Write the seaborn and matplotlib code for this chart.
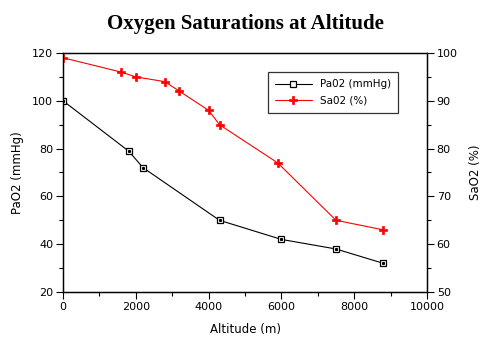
import seaborn as sns
import pandas as pd
import matplotlib.pyplot as plt
from matplotlib.ticker import MultipleLocator

# values
altitude_pao2 = [0, 1800, 2200, 4300, 6000, 7500, 8800]
pao2 = [100, 79, 72, 50, 42, 38, 32]

altitude_sao2 = [0, 1600, 2000, 2800, 3200, 4000, 4300, 5900, 7500, 8800]
sao2 = [99, 96, 95, 94, 92, 88, 85, 77, 65, 63]

df_pa = pd.DataFrame({'altitude': altitude_pao2, 'value': pao2})
df_sa = pd.DataFrame({'altitude': altitude_sao2, 'value': sao2})

sns.set_style("ticks")
plt.rcParams['font.family'] = ['DejaVu Sans']
plt.rcParams['text.color'] = 'black'
plt.rcParams['axes.labelcolor'] = 'black'
plt.rcParams['xtick.color'] = 'black'
plt.rcParams['ytick.color'] = 'black'

fig = plt.figure(figsize=(4.9, 3.5), dpi=100)
ax = fig.add_axes([0.1286, 0.1657, 0.7428, 0.6829])
ax2 = ax.twinx()

sns.lineplot(data=df_pa, x='altitude', y='value', ax=ax, color='black',
             lw=0.8, marker='s', markersize=5, markerfacecolor='white',
             markeredgecolor='black', markeredgewidth=0.9, label='Pa02 (mmHg)',
             legend=False)
ax.plot(altitude_pao2, pao2, ls='none', marker='s', markersize=1.2,
        color='black', zorder=5)
sns.lineplot(data=df_sa, x='altitude', y='value', ax=ax2, color='red',
             lw=0.8, marker='P', markersize=5.5, markeredgewidth=0.5,
             markeredgecolor='red', label='Sa02 (%)', legend=False)

ax.set_xlim(0, 10000)
ax.set_ylim(20, 120)
ax2.set_ylim(50, 100)

ax.xaxis.set_major_locator(MultipleLocator(2000))
ax.xaxis.set_minor_locator(MultipleLocator(1000))
ax.yaxis.set_major_locator(MultipleLocator(20))
ax.yaxis.set_minor_locator(MultipleLocator(10))
ax2.yaxis.set_major_locator(MultipleLocator(10))
ax2.yaxis.set_minor_locator(MultipleLocator(5))

for a in (ax, ax2):
    a.tick_params(which='major', length=5, width=0.8, labelsize=8, pad=2)
    a.tick_params(which='minor', length=3, width=0.8)
    for s in a.spines.values():
        s.set_linewidth(0.9)
        s.set_color('black')

ax.set_xlabel('Altitude (m)', fontsize=8.5, labelpad=8)
ax.set_ylabel('PaO2 (mmHg)', fontsize=8.5, labelpad=6)
ax2.set_ylabel('SaO2 (%)', fontsize=8.5, rotation=90, labelpad=8)

fig.suptitle('Oxygen Saturations at Altitude', x=0.5, y=0.96,
             fontsize=15, fontweight='bold', family='Liberation Serif')

h1, l1 = ax.get_legend_handles_labels()
h2, l2 = ax2.get_legend_handles_labels()
leg = ax2.legend(h1[:1] + h2, l1[:1] + l2, loc='upper left',
                 bbox_to_anchor=(0.563, 0.92), borderaxespad=0,
                 fontsize=7.5, frameon=True, fancybox=False,
                 edgecolor='black', handlelength=3.5,
                 borderpad=0.7, labelspacing=0.6)
leg.get_frame().set_linewidth(0.9)

plt.savefig('out.png', dpi=100)
